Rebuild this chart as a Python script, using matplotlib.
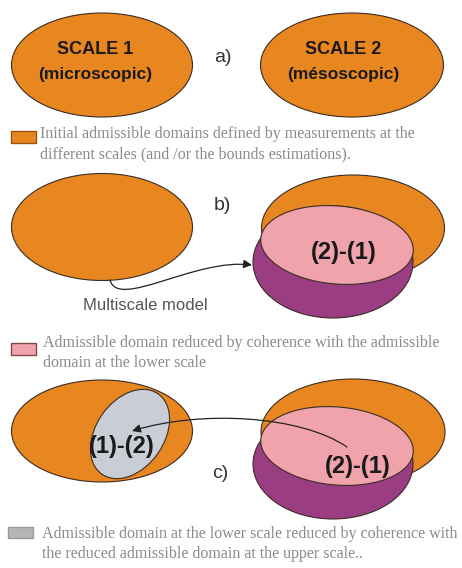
import matplotlib
matplotlib.use("Agg")
import matplotlib.pyplot as plt
from matplotlib.patches import Ellipse, Rectangle, FancyArrowPatch
from matplotlib.path import Path

ORANGE = "#e8861f"
PINK = "#f0a3aa"
PURPLE = "#9b3d83"
GREY = "#c9ced6"
EDGE = "#3a2d25"
TEXT_GREY = "#8a8a8a"

# ellipse geometry in pixel coords: (cx, cy, w, h, angle)
left_ellipses = [(102, 65, 181, 104, 0), (102, 227, 181, 107, 0), (102, 431, 181, 102, 0)]
right_orange = [(352, 65, 183, 104, 0), (353, 228, 183, 106, 0), (353, 432, 184, 106, 0)]
right_purple = [(333, 262, 160, 112, 0), (333, 464, 160, 110, 0)]
right_pink = [(337, 245, 153, 78, 5), (337, 446, 153, 78, 5)]
grey_ellipse = (130, 434, 98, 68, -55)

panel_labels = ["a)", "b)", "c)"]
panel_label_pos = [(223, 58), (222, 205), (220, 473)]

legend_texts = [
    "Initial admissible domains defined by measurements at the\ndifferent scales (and /or the bounds estimations).",
    "Admissible domain reduced by coherence with the admissible\ndomain at the lower scale",
    "Admissible domain at the lower scale reduced by coherence with\nthe reduced admissible domain at the upper scale..",
]
legend_colors = [ORANGE, PINK, "#b4b6b8"]
legend_edges = ["#9a5412", "#7a4a48", "#9a9a9a"]
legend_boxes = [(11, 131, 25, 12), (11, 343, 25, 12), (8, 527, 25, 11)]
legend_text_pos = [(40, 126), (43, 335), (42, 526)]

fig = plt.figure(figsize=(4.62, 5.68), dpi=100)
ax = fig.add_axes([0, 0, 1, 1])
ax.set_xlim(0, 462)
ax.set_ylim(568, 0)
ax.axis("off")


def ell(geom, color, z):
    cx, cy, w, h, a = geom
    ax.add_patch(Ellipse((cx, cy), w, h, angle=a, facecolor=color,
                         edgecolor=EDGE, lw=0.8, zorder=z))


for g in left_ellipses:
    ell(g, ORANGE, 1)
for g in right_orange:
    ell(g, ORANGE, 1)
for g in right_purple:
    ell(g, PURPLE, 2)
for g in right_pink:
    ell(g, PINK, 3)
ell(grey_ellipse, GREY, 2)

bold = dict(family="Liberation Sans", weight="bold", color="#1a1a1a",
            ha="center", va="center", zorder=5)
ax.text(95, 50, "SCALE 1", fontsize=13, **bold)
ax.text(95, 74, "(microscopic)", fontsize=12.5, **bold)
ax.text(343, 50, "SCALE 2", fontsize=13, **bold)
ax.text(343, 74, "(m\u00e9soscopic)", fontsize=12.5, **bold)
ax.text(344, 252, "(2)-(1)", fontsize=17, **bold)
ax.text(358, 467, "(2)-(1)", fontsize=17, **bold)
ax.text(122, 447, "(1)-(2)", fontsize=17, **bold)

for lab, (x, y) in zip(panel_labels, panel_label_pos):
    ax.text(x, y, lab, fontsize=14, family="Liberation Sans", color="#333333",
            ha="center", va="center", zorder=5)

ax.text(145, 305, "Multiscale model", fontsize=12, family="Liberation Sans",
        color="#555555", ha="center", va="center", zorder=5)

# arrows
arr_b = Path([(110, 280), (118, 310), (195, 258), (252, 265)],
             [Path.MOVETO, Path.CURVE4, Path.CURVE4, Path.CURVE4])
ax.add_patch(FancyArrowPatch(path=arr_b, arrowstyle="-|>,head_length=5,head_width=2.5",
                             color="#222222", lw=0.9, zorder=6))
arr_c = Path([(347, 447), (300, 415), (200, 410), (132, 431)],
             [Path.MOVETO, Path.CURVE4, Path.CURVE4, Path.CURVE4])
ax.add_patch(FancyArrowPatch(path=arr_c, arrowstyle="-|>,head_length=5,head_width=2.5",
                             color="#222222", lw=0.9, zorder=6))

for txt, col, ec, (x, y, w, h), (tx, ty) in zip(legend_texts, legend_colors, legend_edges,
                                                 legend_boxes, legend_text_pos):
    ax.add_patch(Rectangle((x, y), w, h, facecolor=col, edgecolor=ec, lw=1, zorder=4))
    ax.text(tx, ty, txt, fontsize=11.5, family="Liberation Serif", color=TEXT_GREY,
            ha="left", va="top", linespacing=1.35, zorder=5)

fig.savefig("out.png", dpi=100)
